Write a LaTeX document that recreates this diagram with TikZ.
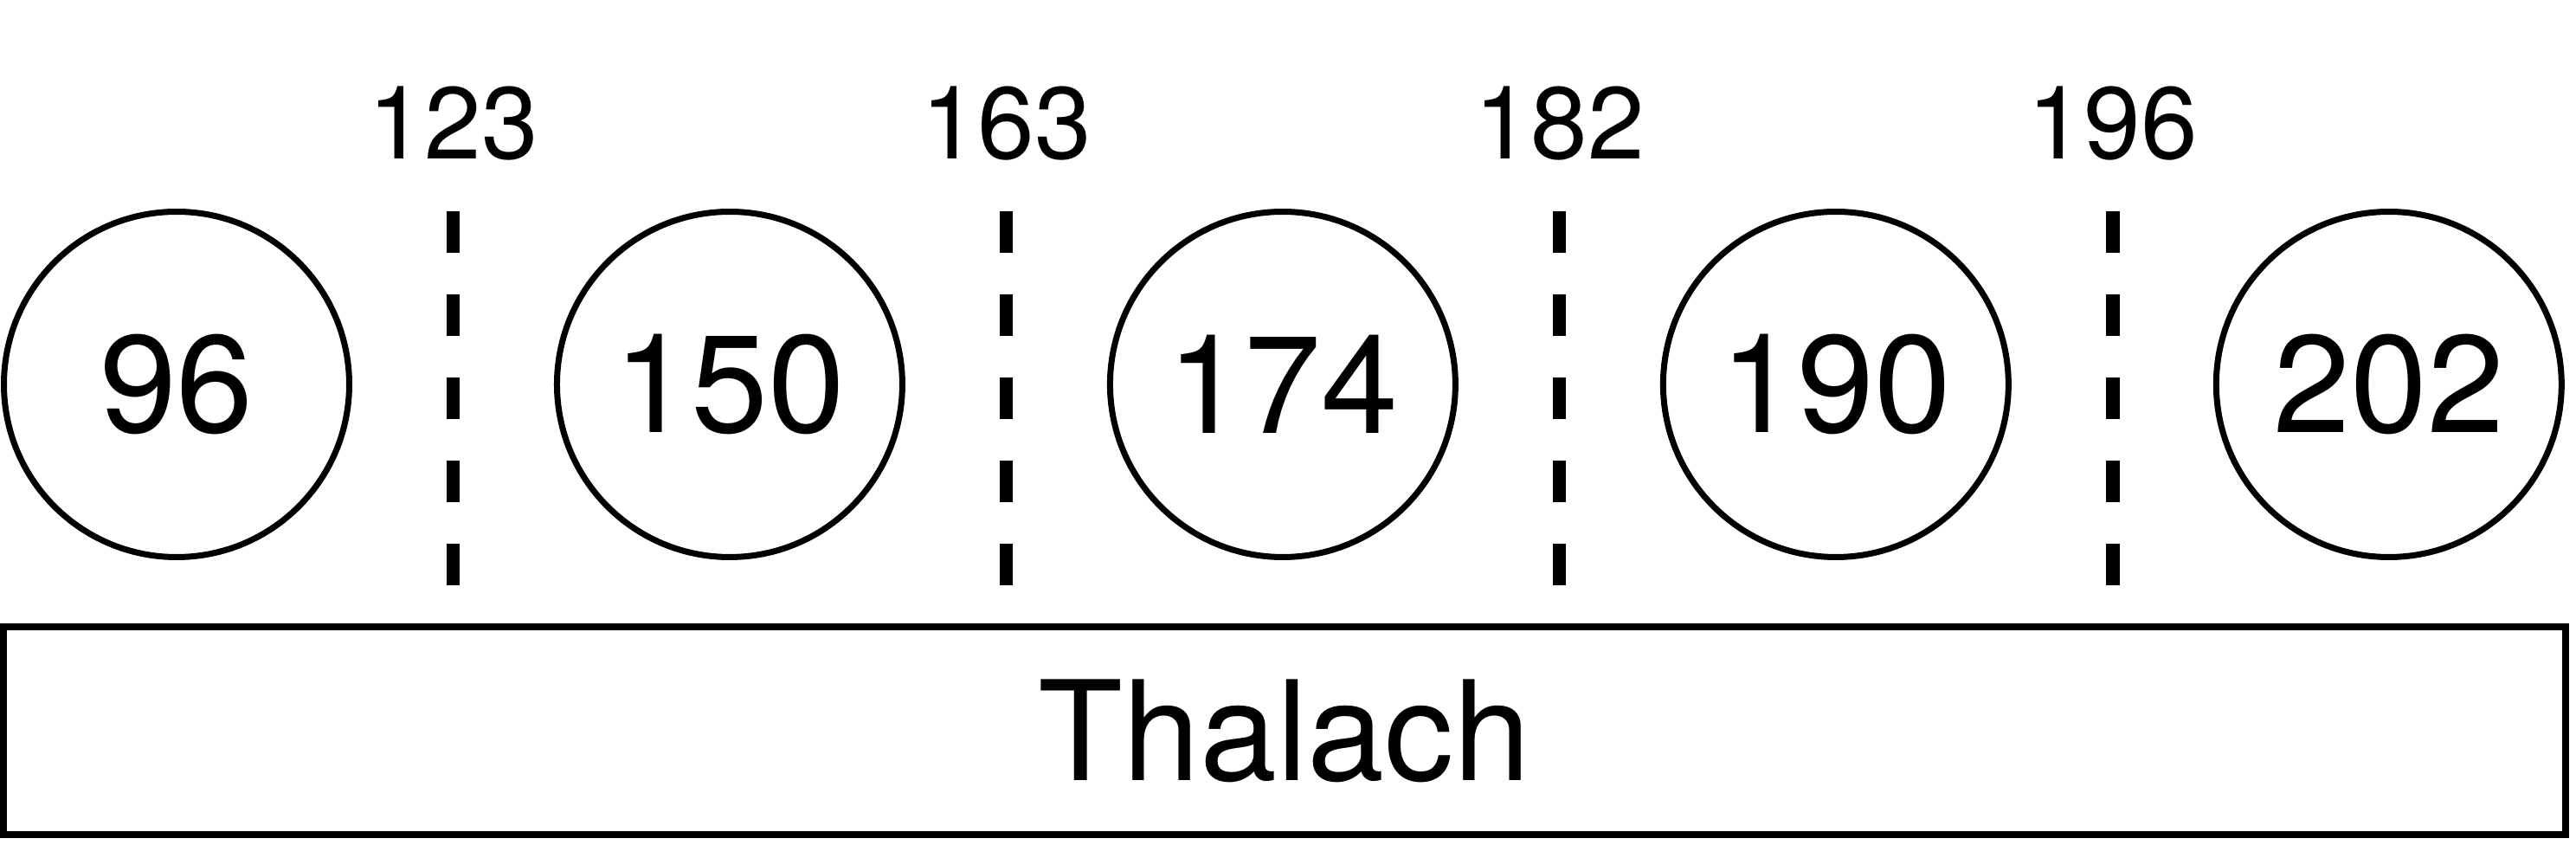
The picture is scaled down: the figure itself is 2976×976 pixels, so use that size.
\documentclass[tikz,border=0pt]{standalone}
\usepackage{fontspec}
\setmainfont{TeX Gyre Heros}
\usetikzlibrary{positioning}

\begin{document}
\begin{tikzpicture}[x=0.1pt,y=-0.1pt,
        bin/.style={circle,draw,line width=0.7pt,inner sep=0pt,minimum size=39.9pt,font=\fontsize{16pt}{19pt}\selectfont},
        cut/.style={line width=1.6pt,dash pattern=on 4.8pt off 4.8pt},
        cutval/.style={anchor=base,inner sep=0pt,font=\fontsize{11.8pt}{14pt}\selectfont}]
            \useasboundingbox (0,0) rectangle (2976,976);
            \node [bin] (b96) at (204,444) {96};
            \node [bin,right=23.3pt of b96] (b150) {150};
            \node [bin,right=23.3pt of b150] (b174) {174};
            \node [bin,right=23.3pt of b174] (b190) {190};
            \node [bin,right=23.3pt of b190] (b202) {202};
            \node [cutval] (c123) at (523.5,184) {123};
            \node [cutval] (c163) at (1162.5,184) {163};
            \node [cutval] (c182) at (1801.5,184) {182};
            \node [cutval] (c196) at (2440.5,184) {196};
            \draw [cut] (523.5,244) -- (523.5,676);
            \draw [cut] (1162.5,244) -- (1162.5,676);
            \draw [cut] (1801.5,244) -- (1801.5,676);
            \draw [cut] (2440.5,244) -- (2440.5,676);
            \node [draw,line width=0.8pt,minimum width=296pt,minimum height=24pt,font=\fontsize{16pt}{19pt}\selectfont] (attr) at (1484,844) {Thalach};
        \end{tikzpicture}
\end{document}
